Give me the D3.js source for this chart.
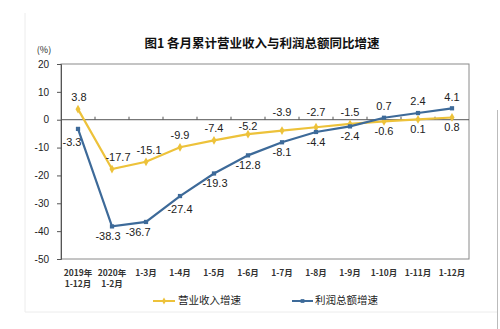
<!DOCTYPE html>
<html><head><meta charset="utf-8">
<script src="https://cdn.jsdelivr.net/npm/d3@7"></script>
<style>body{margin:0;background:#fff}svg{display:block}</style>
</head><body>
<svg id="c" width="500" height="329"></svg>
<script>
const categories = [["2019年","1-12月"],["2020年","1-2月"],["1-3月"],["1-4月"],["1-5月"],["1-6月"],["1-7月"],["1-8月"],["1-9月"],["1-10月"],["1-11月"],["1-12月"]];
const revenueGrowth = [3.8,-17.7,-15.1,-9.9,-7.4,-5.2,-3.9,-2.7,-1.5,-0.6,0.1,0.8];
const profitGrowth = [-3.3,-38.3,-36.7,-27.4,-19.3,-12.8,-8.1,-4.4,-2.4,0.7,2.4,4.1];
const yTicks = [20,10,0,-10,-20,-30,-40,-50];
const seriesNames = ["营业收入增速","利润总额增速"];
const title = "图1  各月累计营业收入与利润总额同比增速";

const svg = d3.select("#c");
const yellow = "#EDC23A", blue = "#3D6A99";
const L = 61, R = 469, T = 64, B = 259;
const num = "'Liberation Sans', Arial, sans-serif";
const cjk = "'Noto Sans CJK SC', sans-serif";
const loc = d3.formatLocale({decimal:".",thousands:",",grouping:[3],currency:["",""],minus:"-"});

// faint outer frame
svg.append("line").attr("x1",25).attr("x2",25).attr("y1",13).attr("y2",312).attr("stroke","#ececec");
svg.append("line").attr("x1",25).attr("x2",497).attr("y1",312).attr("y2",312).attr("stroke","#ececec");
svg.append("line").attr("x1",497.5).attr("x2",497.5).attr("y1",110).attr("y2",329).attr("stroke","#bbb");

const x = d3.scaleBand().domain(d3.range(categories.length)).range([L, R]);
const y = d3.scaleLinear().domain([-50, 20]).range([B, T]);
const cx = i => x(i) + x.bandwidth()/2;

// title
svg.append("text").attr("x",262).attr("y",48).attr("text-anchor","middle")
  .attr("font-family",cjk).attr("font-size",12.5).attr("font-weight","bold").attr("fill","#111").text(title);
svg.append("text").attr("x",44).attr("y",53).attr("text-anchor","middle")
  .attr("font-family",cjk).attr("font-size",9).attr("fill","#222").text("(%)");

// plot box
svg.append("rect").attr("x",L).attr("y",T).attr("width",R-L).attr("height",B-T)
  .attr("fill","none").attr("stroke","#8a8a8a").attr("stroke-width",1);

// y axis
const ya = svg.append("g").attr("transform",`translate(${L},0)`)
  .call(d3.axisLeft(y).tickValues(yTicks).tickSize(4).tickPadding(8).tickFormat(loc.format("d")));
ya.select(".domain").attr("stroke","#555");
ya.selectAll(".tick line").attr("stroke","#555");
ya.selectAll("text").attr("font-family",num).attr("font-size",10).attr("fill","#222");

// zero-line category axis with ticks at band edges
svg.append("line").attr("x1",L).attr("x2",R).attr("y1",y(0)).attr("y2",y(0)).attr("stroke","#555");
svg.selectAll(".xt").data(d3.range(1,categories.length)).join("line")
  .attr("x1",i=>x(i)).attr("x2",i=>x(i)).attr("y1",y(0)-3).attr("y2",y(0)).attr("stroke","#555");

// x labels
const xl = svg.selectAll(".xl").data(categories).join("text")
  .attr("x",(d,i)=>cx(i)).attr("y",276).attr("text-anchor","middle")
  .attr("font-family",cjk).attr("font-size",8.5).attr("font-weight","bold").attr("fill","#333");
xl.selectAll("tspan").data(d=>d).join("tspan")
  .attr("x",function(){return this.parentNode.getAttribute("x");})
  .attr("dy",(d,j)=>j===0?0:11).text(d=>d);

const line = d3.line().x((d,i)=>cx(i)).y(d=>y(d));
svg.append("path").datum(revenueGrowth).attr("d",line).attr("fill","none").attr("stroke",yellow).attr("stroke-width",2.2);
svg.append("path").datum(profitGrowth).attr("d",line).attr("fill","none").attr("stroke",blue).attr("stroke-width",2.2);

svg.selectAll(".ym").data(revenueGrowth).join("path")
  .attr("d",d3.symbol(d3.symbolDiamond,22)).attr("fill",yellow)
  .attr("transform",(d,i)=>`translate(${cx(i)},${y(d)})`);
svg.selectAll(".bm").data(profitGrowth).join("path")
  .attr("d",d3.symbol(d3.symbolSquare,18)).attr("fill",blue)
  .attr("transform",(d,i)=>`translate(${cx(i)},${y(d)})`);

// data labels
const fmt = loc.format(".1f");
const yDx = [1,6,3,0,0,0,0,0,0,0,0,0];
const bDx = [-6,-4,-8,0,1,0,0,0,0,0,0,0];
svg.selectAll(".yl").data(revenueGrowth).join("text")
  .attr("x",(d,i)=>cx(i)+yDx[i])
  .attr("y",(d,i)=> i>=9 ? y(d)+11 : (d<0 && d>-4.5 ? y(0)-7 : (d<0 ? Math.max(y(d)-11, y(0)+7.5) : y(d)-11)))
  .attr("dominant-baseline","middle").attr("text-anchor","middle")
  .attr("font-family",num).attr("font-size",11).attr("fill","#222").text(d=>fmt(d));
svg.selectAll(".bl").data(profitGrowth).join("text")
  .attr("x",(d,i)=>cx(i)+bDx[i])
  .attr("y",(d,i)=> i<9 ? y(d)+11 + (i===0||i===3?3:0) : y(d)-10.5)
  .attr("dominant-baseline","middle").attr("text-anchor","middle")
  .attr("font-family",num).attr("font-size",11).attr("fill","#222").text(d=>fmt(d));

// legend
const leg = [{n:seriesNames[0],c:yellow,x1:153,x2:175,tx:178,sym:d3.symbolDiamond},{n:seriesNames[1],c:blue,x1:292,x2:313,tx:315,sym:d3.symbolSquare}];
leg.forEach(l=>{
  svg.append("line").attr("x1",l.x1).attr("x2",l.x2).attr("y1",301).attr("y2",301).attr("stroke",l.c).attr("stroke-width",2);
  svg.append("path").attr("d",d3.symbol(l.sym,14)).attr("fill",l.c).attr("transform",`translate(${(l.x1+l.x2)/2},301)`);
  svg.append("text").attr("x",l.tx).attr("y",301).attr("dominant-baseline","middle")
    .attr("font-family",cjk).attr("font-size",10.5).attr("fill","#222").text(l.n);
});
</script>
</body></html>
